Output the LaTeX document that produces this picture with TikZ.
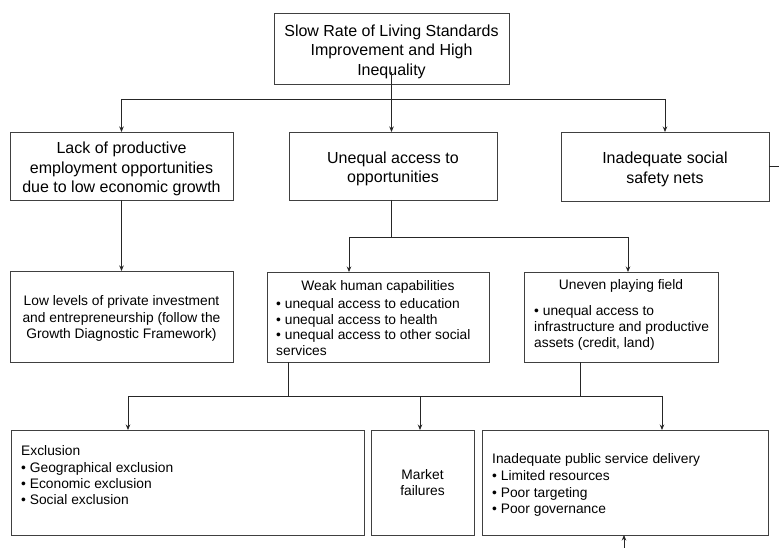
\documentclass[tikz,border=0pt]{standalone}
\usepackage{fontspec}
\setmainfont{Liberation Sans}
\usetikzlibrary{arrows.meta}
\newcommand\bigraise{\rule{0pt}{17.5bp}}
\newcommand\smallraise{\rule{0pt}{14bp}}
\begin{document}
\begin{tikzpicture}[x=1bp,y=-1bp,
  box/.style={draw=black!75, line width=0.8bp, inner sep=0pt, outer sep=0pt, text=black},
  bigtxt/.style={font=\fontsize{16bp}{19.5bp}\selectfont, align=center},
  smalltxt/.style={font=\fontsize{13.8bp}{16.3bp}\selectfont, text=black},
  lefttxt/.style={smalltxt, anchor=north west, inner sep=0pt, align=left},
  conn/.style={draw=black!85, line width=0.8bp},
  arr/.style={conn, -{Stealth[length=5.5bp,width=4.5bp]}}
]
\useasboundingbox (0,0) rectangle (779,548);
% boxes
\node[box, bigtxt, minimum width=235bp, minimum height=71bp] (top) at (391.5,48.5) {\bigraise Slow Rate of Living Standards\\Improvement and High\\Inequality};
\node[box, bigtxt, minimum width=223bp, minimum height=68bp] (lack) at (121.5,166) {\bigraise Lack of productive\\employment opportunities\\due to low economic growth};
\node[box, bigtxt, minimum width=208bp, minimum height=68bp] (mid) at (393,166) {\bigraise Unequal access to\\opportunities};
\node[box, bigtxt, minimum width=208bp, minimum height=69bp] (right) at (665,166.5) {\bigraise Inadequate social\\safety nets};
\node[box, smalltxt, align=center, font=\fontsize{13.8bp}{16.5bp}\selectfont, minimum width=223bp, minimum height=91bp] (low) at (121.5,316.5) {\smallraise Low levels of private investment\\and entrepreneurship (follow the\\Growth Diagnostic Framework)};
\node[box, minimum width=222bp, minimum height=90bp] (weak) at (378,317) {};
\node[box, minimum width=194bp, minimum height=90bp] (uneven) at (621,317) {};
\node[box, minimum width=353bp, minimum height=105bp] (excl) at (187.5,482.5) {};
\node[box, smalltxt, align=center, minimum width=103bp, minimum height=105bp] (market) at (422.5,482.5) {Market\\failures};
\node[box, minimum width=286bp, minimum height=105bp] (public) at (625,482.5) {};
% texts inside boxes
\node[smalltxt, anchor=base, inner sep=0pt] (weakt) at (378,291) {Weak human capabilities};
\node[lefttxt, font=\fontsize{13.8bp}{15.8bp}\selectfont] (weakb) at (276,297) {\strut• unequal access to education\\• unequal access to health\\• unequal access to other social\\services};
\node[smalltxt, anchor=base, inner sep=0pt] (uneventt) at (621,290) {Uneven playing field};
\node[lefttxt, font=\fontsize{13.8bp}{16bp}\selectfont] (unevenb) at (534,304) {\strut• unequal access to\\infrastructure and productive\\assets (credit, land)};
\node[lefttxt] (exclt) at (21,444.2) {\strut Exclusion\\• Geographical exclusion\\• Economic exclusion\\• Social exclusion};
\node[lefttxt, font=\fontsize{13.8bp}{16.7bp}\selectfont] (publict) at (492,451.8) {\strut Inadequate public service delivery\\• Limited resources\\• Poor targeting\\• Poor governance};
% coordinates
\coordinate (bus1) at (0,99);
\coordinate (bus2) at (0,237);
\coordinate (bus3) at (0,396);
\coordinate (redge) at (779,0);
\coordinate (wk) at (349,0);
\coordinate (un) at (628,0);
\coordinate (wb) at (288,0);
\coordinate (ub) at (580,0);
\coordinate (ea) at (128,0);
\coordinate (ma) at (420,0);
\coordinate (pa) at (662,0);
\coordinate (bot) at (624,548);
% connectors
\draw[arr] ([yshift=12bp]top.south) -- (top.south |- mid.north);
\draw[conn] (bus1 -| lack.north) -- (bus1 -| right.north);
\draw[arr] (bus1 -| lack.north) -- (lack.north);
\draw[arr] (bus1 -| right.north) -- (right.north);
\draw[conn] (right.east) -- (right.east -| redge);
\draw[arr] (lack.south) -- (low.north);
\draw[conn] (mid.south -| top.south) -- (bus2 -| top.south);
\draw[conn] (bus2 -| wk) -- (bus2 -| un);
\draw[arr] (bus2 -| wk) -- (weak.north -| wk);
\draw[arr] (bus2 -| un) -- (uneven.north -| un);
\draw[conn] (weak.south -| wb) -- (bus3 -| wb);
\draw[conn] (uneven.south -| ub) -- (bus3 -| ub);
\draw[conn] (bus3 -| ea) -- (bus3 -| pa);
\draw[arr] (bus3 -| ea) -- (excl.north -| ea);
\draw[arr] (bus3 -| ma) -- (market.north -| ma);
\draw[arr] (bus3 -| pa) -- (public.north -| pa);
\draw[arr] (bot) -- (public.south -| bot);
\end{tikzpicture}
\end{document}
